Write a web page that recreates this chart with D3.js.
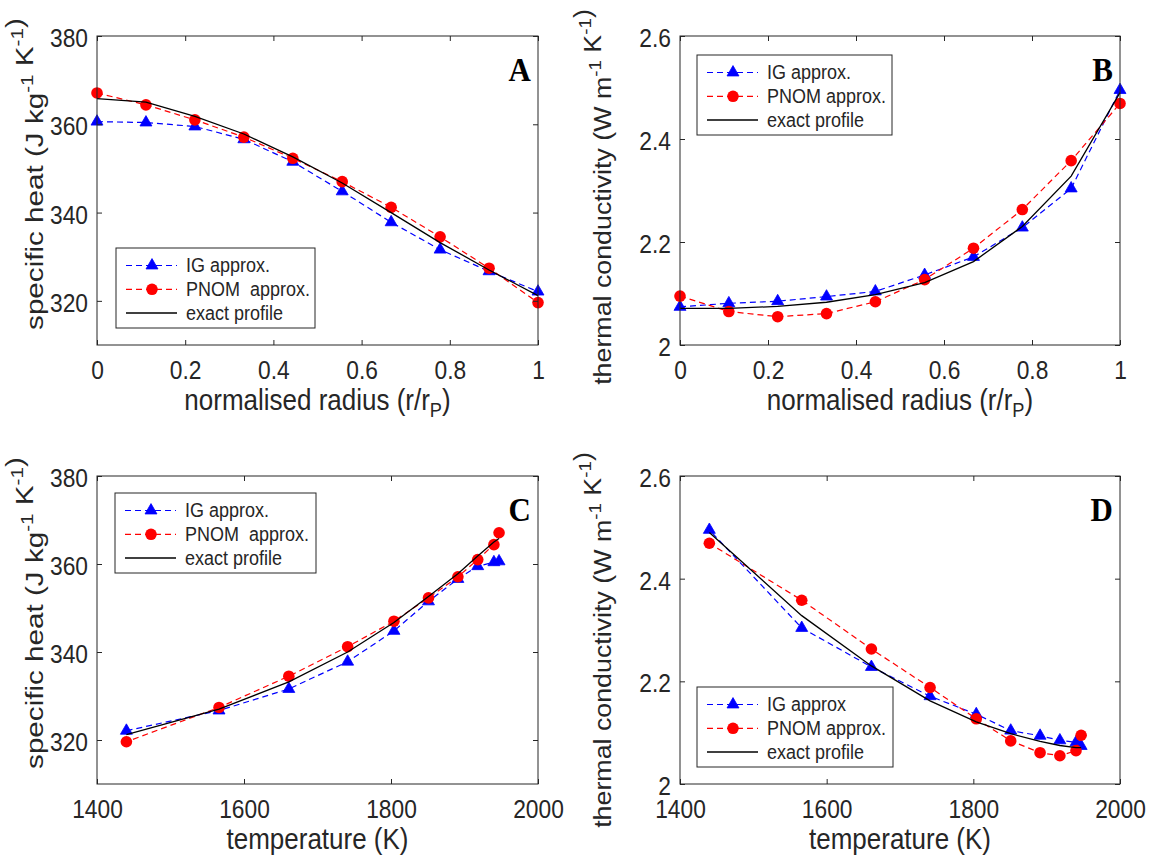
<!DOCTYPE html>
<html><head><meta charset="utf-8">
<script src="https://cdn.jsdelivr.net/npm/d3@7"></script>
<style>
body{margin:0;background:#fff}
text{font-family:"Liberation Sans",Arial,sans-serif;fill:#262626}
</style>
</head><body>
<svg id="c" width="1150" height="858"></svg>
<script>
// ---------------- data ----------------
const radius      = [0, 0.111, 0.222, 0.333, 0.444, 0.556, 0.667, 0.778, 0.889, 1];
const temperature = [1947, 1940, 1918, 1891, 1851, 1804, 1741, 1661, 1566, 1440];
const cpIG    = [360.6, 360.4, 359.5, 356.6, 351.5, 344.8, 337.8, 331.6, 326.7, 322.1];
const cpPNOM  = [367.1, 364.4, 361.0, 357.1, 352.3, 347.0, 341.2, 334.5, 327.4, 319.6];
const cpExact = [365.8, 365.0, 361.8, 357.8, 352.6, 346.7, 340.0, 333.2, 327.0, 321.2];
const kIG    = [2.074, 2.081, 2.085, 2.094, 2.104, 2.136, 2.171, 2.228, 2.304, 2.495];
const kPNOM  = [2.095, 2.065, 2.055, 2.061, 2.084, 2.127, 2.188, 2.263, 2.358, 2.469];
const kExact = [2.071, 2.071, 2.075, 2.083, 2.098, 2.121, 2.162, 2.230, 2.328, 2.490];

const xTicksRadius = [0, 0.2, 0.4, 0.6, 0.8, 1];
const xTicksTemp   = [1400, 1600, 1800, 2000];
const yTicksCp     = [320, 340, 360, 380];
const yTicksK      = [2, 2.2, 2.4, 2.6];

const legendA = ['IG approx.', 'PNOM  approx.', 'exact profile'];
const legendB = ['IG approx.', 'PNOM approx.', 'exact profile'];
const legendC = ['IG approx.', 'PNOM  approx.', 'exact profile'];
const legendD = ['IG approx', 'PNOM approx.', 'exact profile'];

// ---------------- layout ----------------
const SY = 1.12;           // vertical stretch of the reference figure
const AX = '#262626';
const svg = d3.select('#c');
svg.append('rect').attr('width', 1150).attr('height', 858).attr('fill', '#fff');

const panels = [
  {letter:'A', xs:radius, ig:cpIG, pn:cpPNOM, ex:cpExact, xDom:[0,1], yDom:[310,380],
   xt:xTicksRadius, yt:yTicksCp, box:[97,36,538,345], xlab:'radius', ylab:'cp',
   leg:{x:116, y:248, w:199}, legLabels:legendA, ylabX:43, ylabY:174, ylabLen:312},
  {letter:'B', xs:radius, ig:kIG, pn:kPNOM, ex:kExact, xDom:[0,1], yDom:[2,2.6],
   xt:xTicksRadius, yt:yTicksK, box:[680,36,1120,345], xlab:'radius', ylab:'k',
   leg:{x:697, y:55, w:195}, legLabels:legendB, ylabX:611, ylabY:197, ylabLen:376},
  {letter:'C', xs:temperature, ig:cpIG, pn:cpPNOM, ex:cpExact, xDom:[1400,2000], yDom:[310,380],
   xt:xTicksTemp, yt:yTicksCp, box:[97,476,538,784], xlab:'temp', ylab:'cp',
   leg:{x:115, y:493, w:201}, legLabels:legendC, ylabX:43, ylabY:613, ylabLen:312},
  {letter:'D', xs:temperature, ig:kIG, pn:kPNOM, ex:kExact, xDom:[1400,2000], yDom:[2,2.6],
   xt:xTicksTemp, yt:yTicksK, box:[680,476,1120,784], xlab:'temp', ylab:'k',
   leg:{x:697, y:687, w:196}, legLabels:legendD, ylabX:611, ylabY:640, ylabLen:376}
];

const TICK_FS = 22.8, TITLE_FS = 26, YLAB_FS = 23.5, LEG_FS = 18;

function addSup(t, fs, txt) {
  const sh = fs * 0.42;
  t.append('tspan').attr('dy', -sh).attr('font-size', fs * 0.7).text(txt);
  t.append('tspan').attr('dy', sh).text('');
}

function drawMarkerTri(g, cx, cy) {
  g.append('path').attr('d', d3.symbol().type(d3.symbolTriangle).size(62)())
    .attr('transform', `translate(${cx},${cy})`).attr('fill', '#0000ff').attr('stroke', '#0000ff').attr('stroke-width', 0.8);
}
function drawMarkerCirc(g, cx, cy) {
  g.append('circle').attr('cx', cx).attr('cy', cy).attr('r', 5.8).attr('fill', '#ff0000');
}

panels.forEach(p => {
  const [L, T, R, B] = p.box;
  const x = d3.scaleLinear().domain(p.xDom).range([L, R]);
  const y = d3.scaleLinear().domain(p.yDom).range([B, T]);
  const g = svg.append('g');
  const line = d3.line().x((d, i) => x(p.xs[i])).y(d => y(d));

  // IG series
  g.append('path').datum(p.ig).attr('d', line).attr('fill', 'none')
    .attr('stroke', '#0000ff').attr('stroke-width', 1.2).attr('stroke-dasharray', '6,4');
  p.ig.forEach((v, i) => drawMarkerTri(g, x(p.xs[i]), y(v)));
  // PNOM series
  g.append('path').datum(p.pn).attr('d', line).attr('fill', 'none')
    .attr('stroke', '#ff0000').attr('stroke-width', 1.2).attr('stroke-dasharray', '6,4');
  p.pn.forEach((v, i) => drawMarkerCirc(g, x(p.xs[i]), y(v)));
  // exact
  g.append('path').datum(p.ex).attr('d', line).attr('fill', 'none')
    .attr('stroke', '#000').attr('stroke-width', 1.3);

  // axes
  const fmt = d => String(d);
  const ax = g.append('g').attr('transform', `translate(0,${B})`)
    .call(d3.axisBottom(x).tickValues(p.xt).tickSizeInner(-5).tickSizeOuter(0).tickFormat(fmt));
  const ay = g.append('g').attr('transform', `translate(${L},0)`)
    .call(d3.axisLeft(y).tickValues(p.yt).tickSizeInner(-5).tickSizeOuter(0).tickFormat(fmt));
  const at = g.append('g').attr('transform', `translate(0,${T})`)
    .call(d3.axisTop(x).tickValues(p.xt).tickSizeInner(-5).tickSizeOuter(0).tickFormat(''));
  const ar = g.append('g').attr('transform', `translate(${R},0)`)
    .call(d3.axisRight(y).tickValues(p.yt).tickSizeInner(-5).tickSizeOuter(0).tickFormat(''));
  [ax, ay, at, ar].forEach(a => {
    a.attr('color', AX).attr('font-size', TICK_FS).attr('font-family', '"Liberation Sans",Arial,sans-serif');
    a.select('.domain').remove();
  });
  ax.selectAll('text').attr('y', null).attr('dy', null)
    .attr('transform', `translate(0,34) scale(1,${SY})`);
  ay.selectAll('text').attr('x', null).attr('dy', null)
    .attr('transform', `translate(-9,10.5) scale(1,${SY})`);
  at.selectAll('text').remove();
  ar.selectAll('text').remove();

  // box
  g.append('rect').attr('x', L).attr('y', T).attr('width', R - L).attr('height', B - T)
    .attr('fill', 'none').attr('stroke', AX).attr('stroke-width', 1);

  // x title
  const xt = g.append('text').attr('text-anchor', 'middle').attr('font-size', TITLE_FS)
    .attr('transform', `translate(${(L + R) / 2},${B + 65}) scale(1,${SY})`);
  if (p.xlab === 'radius') {
    xt.append('tspan').text('normalised radius (r/r');
    xt.append('tspan').attr('dy', TITLE_FS * 0.25).attr('font-size', TITLE_FS * 0.7).text('P');
    xt.append('tspan').attr('dy', -TITLE_FS * 0.25).text(')');
  } else {
    xt.text('temperature (K)');
  }

  // y title
  const yt = g.append('text').attr('text-anchor', 'middle').attr('font-size', YLAB_FS)
    .style('white-space', 'pre');
  if (p.ylab === 'cp') {
    yt.append('tspan').text('specific heat (J kg');
    addSup(yt, YLAB_FS, '-1');
    yt.append('tspan').text(' K');
    addSup(yt, YLAB_FS, '-1');
    yt.append('tspan').text(')');
  } else {
    yt.append('tspan').text('thermal conductivity (W m');
    addSup(yt, YLAB_FS, '-1');
    yt.append('tspan').text(' K');
    addSup(yt, YLAB_FS, '-1');
    yt.append('tspan').text(')');
  }
  const len = yt.node().getComputedTextLength();
  const sl = len > 0 ? p.ylabLen / len : 1;
  yt.attr('transform', `translate(${p.ylabX},${p.ylabY}) rotate(-90) scale(${sl},1)`);

  // panel letter
  g.append('text').attr('text-anchor', 'end').attr('font-size', 31).attr('font-weight', 'bold')
    .style('font-family', '"Liberation Serif","Times New Roman",serif').style('fill', '#000')
    .attr('transform', `translate(${R - 7},${T + 45}) scale(1,${SY})`).text(p.letter);

  // legend
  const lg = g.append('g');
  const lh = 80;
  lg.append('rect').attr('x', p.leg.x).attr('y', p.leg.y).attr('width', p.leg.w).attr('height', lh)
    .attr('fill', '#fff').attr('stroke', AX).attr('stroke-width', 1);
  const rows = [p.leg.y + 17.5, p.leg.y + 41.3, p.leg.y + 65];
  const styles = [
    {c:'#0000ff', dash:'6,4', m:'tri'},
    {c:'#ff0000', dash:'6,4', m:'circ'},
    {c:'#000', dash:null, m:null}
  ];
  styles.forEach((s, i) => {
    const ry = rows[i];
    lg.append('line').attr('x1', p.leg.x + 10).attr('x2', p.leg.x + 61).attr('y1', ry).attr('y2', ry)
      .attr('stroke', s.c).attr('stroke-width', i === 2 ? 1.3 : 1.2).attr('stroke-dasharray', s.dash);
    if (s.m === 'tri') drawMarkerTri(lg, p.leg.x + 36, ry);
    if (s.m === 'circ') drawMarkerCirc(lg, p.leg.x + 36, ry);
    lg.append('text').attr('font-size', LEG_FS).style('white-space', 'pre')
      .attr('transform', `translate(${p.leg.x + 70},${ry + 6.8}) scale(1,${SY})`)
      .text(p.legLabels[i]);
  });
});
</script>
</body></html>
